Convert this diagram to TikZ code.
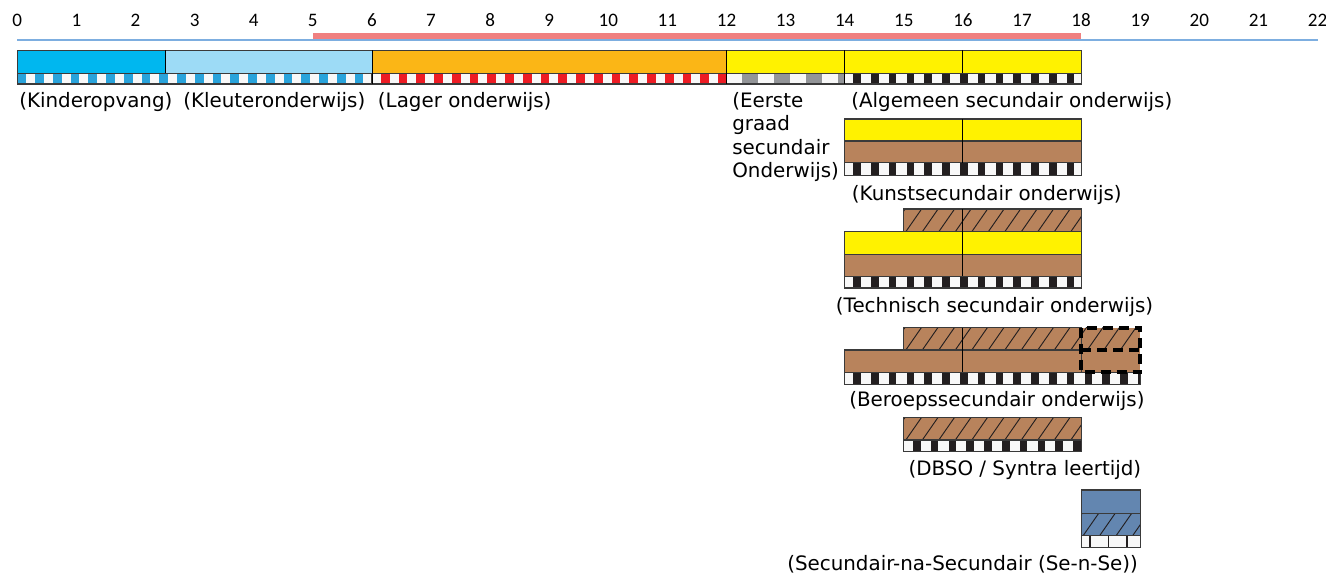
\documentclass[tikz,border=0pt]{standalone}
\usepackage{fontspec}
\setmainfont{DejaVu Sans}
\newfontfamily\rulerfont{Carlito}
\definecolor{kinder}{HTML}{00B7EF}
\definecolor{kleuter}{HTML}{9DDBF6}
\definecolor{lager}{HTML}{FBB616}
\definecolor{ylw}{HTML}{FFF200}
\definecolor{brn}{HTML}{B8835C}
\definecolor{snse}{HTML}{6386B0}
\definecolor{cblue}{HTML}{29A3DB}
\definecolor{cred}{HTML}{ED1C24}
\definecolor{cgray}{HTML}{939598}
\definecolor{cdark}{HTML}{231F20}
\definecolor{cwhite}{HTML}{F8F8F8}
\definecolor{redline}{HTML}{F08080}
\definecolor{blueline}{HTML}{7DAEE0}
\definecolor{bordc}{HTML}{3A3A3A}
\tikzset{
  bord/.style={draw=bordc, line width=0.8pt},
  divline/.style={draw=black, line width=0.75pt},
  hatchline/.style={draw=cdark, line width=0.7pt},
  dashbox/.style={draw=black, line width=2.8pt, dash pattern=on 7.5pt off 4.5pt},
  lbl/.style={anchor=base west, inner sep=0pt, font=\fontsize{14.9}{17}\selectfont},
  rul/.style={anchor=base, inner sep=0pt, font=\rulerfont\fontsize{14.3}{16}\selectfont}
}
% strip: x0,x1,ytop,ybot,period,darkwidth,offset,color
\newcommand{\mystrip}[8]{%
  \begin{scope}
    \clip (#1,#3) rectangle (#2,#4);
    \fill[cwhite] (#1,#3) rectangle (#2,#4);
    \pgfmathtruncatemacro{\nn}{(#2-#1)/#5+1}
    \foreach \k in {0,...,\nn}{\fill[#8] ({#1+#7+\k*#5},#3) rectangle ({#1+#7+\k*#5+#6},#4);}
  \end{scope}
  \draw[bord] (#1,#3) rectangle (#2,#4);}
% hatch: x0,x1,ytop,ybot,fill
\newcommand{\myhatch}[5]{%
  \begin{scope}
    \clip (#1,#3) rectangle (#2,#4);
    \fill[#5] (#1,#3) rectangle (#2,#4);
    \pgfmathtruncatemacro{\nn}{(#2-#1)/16.5+2}
    \foreach \k in {-1,...,\nn}{\draw[hatchline] ({#1+2+\k*16.5},#4) -- ++(16,-23);}
  \end{scope}}
\begin{document}
\begin{tikzpicture}[x=0.75pt,y=-0.75pt]
\useasboundingbox (0,0) rectangle (1326,577);
% ruler
\foreach \i in {0,...,22}{\node[rul] (r\i) at ({17.3+59.1*\i},26.7) {\i};}
\draw[redline, line width=4.3pt] (312.8,36.2) -- (1081.1,36.2);
\draw[blueline, line width=1.2pt] (17.3,40.2) -- (1317.5,40.2);
% row 1
\fill[kinder] (17.3,50.5) rectangle (165.1,73.3);
\fill[kleuter] (165.1,50.5) rectangle (372,73.3);
\fill[lager] (372,50.5) rectangle (726.5,73.3);
\fill[ylw] (726.5,50.5) rectangle (1081.1,73.3);
\mystrip{17.3}{372}{73.3}{84}{17.75}{8.7}{0}{cblue}
\mystrip{372}{726.5}{73.3}{84}{17.75}{8.7}{8.8}{cred}
\mystrip{726.5}{844.7}{73.3}{84}{32}{16}{15.5}{cgray}
\mystrip{844.7}{1081.1}{73.3}{84}{17.8}{7.5}{8.5}{cdark}
\draw[bord] (17.3,50.5) rectangle (1081.1,84);
\draw[bord] (17.3,73.3) -- (1081.1,73.3);
\draw[divline] (165.1,50.5) -- (165.1,73.3);
\draw[divline] (372,50.5) -- (372,84);
\draw[divline] (726.5,50.5) -- (726.5,84);
\draw[divline] (844.7,50.5) -- (844.7,84);
\draw[divline] (962.9,50.5) -- (962.9,73.3);
% Kunst
\fill[ylw] (844.7,119) rectangle (1081.1,141);
\fill[brn] (844.7,141) rectangle (1081.1,162.7);
\mystrip{844.7}{1081.1}{162.7}{175.3}{17.8}{7.5}{8.5}{cdark}
\draw[bord] (844.7,119) rectangle (1081.1,175.3);
\draw[bord] (844.7,141) -- (1081.1,141);
\draw[divline] (962.9,119) -- (962.9,162.7);
% Technisch
\myhatch{903.8}{1081.1}{209}{231.7}{brn}
\fill[ylw] (844.7,231.7) rectangle (1081.1,254.3);
\fill[brn] (844.7,254.3) rectangle (1081.1,276.3);
\mystrip{844.7}{1081.1}{276.3}{288}{17.8}{7.5}{8.5}{cdark}
\draw[bord] (903.8,209) rectangle (1081.1,231.7);
\draw[bord] (844.7,231.7) rectangle (1081.1,288);
\draw[bord] (844.7,254.3) -- (1081.1,254.3);
\draw[divline] (962.9,209) -- (962.9,276.3);
% Beroeps
\myhatch{903.8}{1140.2}{327.7}{350}{brn}
\fill[brn] (844.7,350) rectangle (1140.2,372.3);
\mystrip{844.7}{1140.2}{372.3}{384.3}{17.8}{7.5}{8.5}{cdark}
\draw[bord] (903.8,327.7) rectangle (1081.1,350);
\draw[bord] (844.7,350) rectangle (1081.1,372.3);
\draw[divline] (962.9,327.7) -- (962.9,372.3);
\draw[dashbox] (1081.1,327.7) rectangle (1140.2,372.3);
\draw[dashbox] (1081.1,350) -- (1140.2,350);
% DBSO
\myhatch{903.8}{1081.1}{417.3}{440}{brn}
\mystrip{903.8}{1081.1}{440}{451.7}{17.8}{7.5}{9.2}{cdark}
\draw[bord] (903.8,417.3) rectangle (1081.1,451.7);
% Se-n-Se
\fill[snse] (1081.1,490) rectangle (1140.2,513.3);
\myhatch{1081.1}{1140.2}{513.3}{535.7}{snse}
\mystrip{1081.1}{1140.2}{535.7}{547.3}{18.4}{1.6}{8.2}{cdark}
\draw[bord] (1081.1,490) rectangle (1140.2,547.3);
\draw[bord] (1081.1,513.3) -- (1140.2,513.3);
% labels
\node[lbl] (kinderlbl) at (19,107.7) {(Kinderopvang)};
\node[lbl] (kleuterlbl) at (183,107.7) {(Kleuteronderwijs)};
\node[lbl] (lagerlbl) at (377.7,107.7) {(Lager onderwijs)};
\node[lbl] (eerste1) at (732,107.7) {(Eerste};
\node[lbl] (eerste2) at (732,131) {graad};
\node[lbl] (eerste3) at (732,154.3) {secundair};
\node[lbl] (eerste4) at (732,177.3) {Onderwijs)};
\node[lbl] (algemlbl) at (851,107.7) {(Algemeen secundair onderwijs)};
\node[lbl] (kunstlbl) at (851.7,200) {(Kunstsecundair onderwijs)};
\node[lbl] (techlbl) at (835.7,312.3) {(Technisch secundair onderwijs)};
\node[lbl] (beroepslbl) at (849,406.7) {(Beroepssecundair onderwijs)};
\node[lbl] (dbsolbl) at (908.3,475) {(DBSO / Syntra leertijd)};
\node[lbl] (snselbl) at (787,570) {(Secundair-na-Secundair (Se-n-Se))};
\end{tikzpicture}
\end{document}
